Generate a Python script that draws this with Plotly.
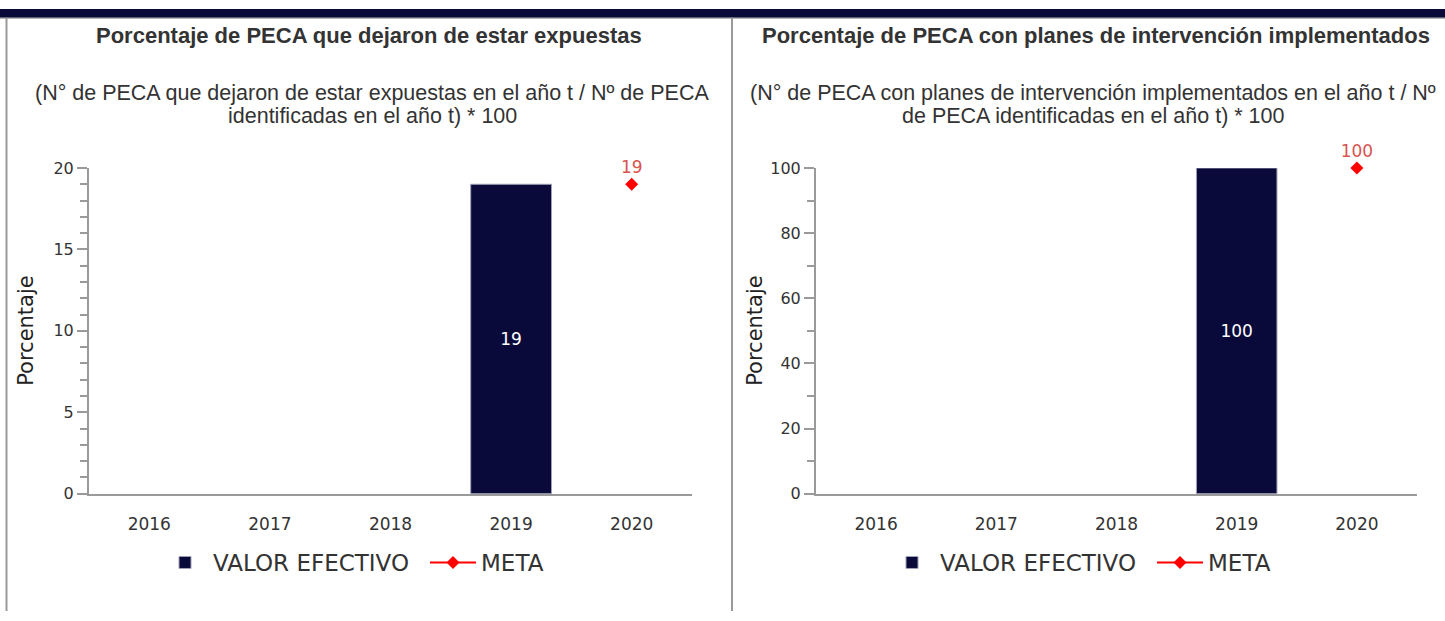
import plotly.graph_objects as go

# ---- data ----
years = ["2016", "2017", "2018", "2019", "2020"]
valor_1 = [None, None, None, 19, None]
meta_1 = [None, None, None, None, 19]
valor_2 = [None, None, None, 100, None]
meta_2 = [None, None, None, None, 100]

title_1 = "Porcentaje de PECA que dejaron de estar expuestas"
sub_1 = ["(N° de PECA que dejaron de estar expuestas en el año t / Nº de PECA",
         "identificadas en el año t) * 100"]
title_2 = "Porcentaje de PECA con planes de intervención implementados"
sub_2 = ["(N° de PECA con planes de intervención implementados en el año t / Nº",
         "de PECA identificadas en el año t) * 100"]
y_title = "Porcentaje"
legend_names = ["VALOR EFECTIVO", "META"]

W, H = 1445, 621
NAVY = "#0a0a3a"
GRAY = "#9a9a9a"
RED = "#ff0000"
LABEL_RED = "#d9534f"
TXT = "#333333"
CHART_FONT = "DejaVu Sans"
TITLE_FONT = "Liberation Sans, Arial, sans-serif"


def px_x(x):
    return x / W


def px_y(y):
    return 1 - y / H


fig = go.Figure()

panels = [
    dict(valor=valor_1, meta=meta_1, xa="x", ya="y", leg="legend"),
    dict(valor=valor_2, meta=meta_2, xa="x2", ya="y2", leg="legend2"),
]
for i, p in enumerate(panels):
    fig.add_trace(go.Bar(
        x=years, y=p["valor"], name=legend_names[0],
        marker=dict(color=NAVY, line=dict(color="#a0a0b8", width=1)),
        texttemplate="%{y}", textposition="inside", insidetextanchor="middle",
        textfont=dict(family=CHART_FONT, size=17, color="white"),
        xaxis=p["xa"], yaxis=p["ya"], legend=p["leg"], hoverinfo="skip",
    ))
    fig.add_trace(go.Scatter(
        x=years, y=p["meta"], name=legend_names[1], mode="lines+markers",
        line=dict(color=RED, width=2),
        marker=dict(symbol="diamond", size=10, color=RED),
        cliponaxis=False,
        xaxis=p["xa"], yaxis=p["ya"], legend=p["leg"], hoverinfo="skip",
    ))
    fig.add_trace(go.Scatter(
        x=years, y=p["meta"], mode="markers+text", texttemplate="%{y}",
        textposition="top center",
        marker=dict(size=9, color="rgba(0,0,0,0)"),
        textfont=dict(family=CHART_FONT, size=17, color=LABEL_RED),
        cliponaxis=False,
        xaxis=p["xa"], yaxis=p["ya"], showlegend=False, hoverinfo="skip",
    ))

common_x = dict(type="category", categoryorder="array", categoryarray=years,
                range=[-0.5, 4.5], showline=True, linecolor=GRAY, linewidth=2,
                showgrid=False, zeroline=False, ticks="", ticklabelstandoff=14,
                tickfont=dict(family=CHART_FONT, size=17, color=TXT), fixedrange=True)
common_y = dict(showline=True, linecolor=GRAY, linewidth=2, showgrid=False,
                zeroline=False, ticks="outside", ticklen=10, tickwidth=2, tickcolor=GRAY,
                tickfont=dict(family=CHART_FONT, size=16, color=TXT), fixedrange=True)

legend_common = dict(orientation="h", xanchor="left", yanchor="middle",
                     font=dict(family=CHART_FONT, size=23, color=TXT),
                     bgcolor="rgba(0,0,0,0)", itemwidth=46,
                     entrywidth=207, entrywidthmode="pixels")

y0, y1 = px_y(500), px_y(164)
fig.update_layout(
    width=W, height=H, margin=dict(l=0, r=0, t=0, b=0),
    paper_bgcolor="white", plot_bgcolor="white",
    bargap=0.33, showlegend=True,
    xaxis=dict(domain=[px_x(89), px_x(692)], anchor="y", **common_x),
    yaxis=dict(domain=[y0, y1], anchor="x", range=[0, 20], dtick=5,
               minor=dict(dtick=1, ticks="outside", ticklen=7, tickwidth=2,
                          tickcolor=GRAY, showgrid=False), **common_y),
    xaxis2=dict(domain=[px_x(816), px_x(1417)], anchor="y2", **common_x),
    yaxis2=dict(domain=[y0, y1], anchor="x2", range=[0, 100], dtick=20,
                minor=dict(dtick=10, ticks="outside", ticklen=7, tickwidth=2,
                           tickcolor=GRAY, showgrid=False), **common_y),
    legend=dict(x=px_x(157), y=px_y(571), **legend_common),
    legend2=dict(x=px_x(884), y=px_y(571), **legend_common),
)

# frame: top band and panel borders
shapes = [
    dict(type="rect", xref="paper", yref="paper", x0=0, x1=1, y0=px_y(9), y1=1,
         fillcolor=NAVY, line=dict(width=0), layer="above"),
    dict(type="line", xref="paper", yref="paper", x0=0, x1=1, y0=px_y(9.5), y1=px_y(9.5),
         line=dict(color=GRAY, width=1)),
    dict(type="line", xref="paper", yref="paper", x0=px_x(6.5), x1=px_x(6.5), y0=0, y1=px_y(9),
         line=dict(color=GRAY, width=2)),
    dict(type="line", xref="paper", yref="paper", x0=px_x(732), x1=px_x(732), y0=0, y1=px_y(9),
         line=dict(color=GRAY, width=2)),
]
fig.update_layout(shapes=shapes)

annotations = []
for cx, sx, t, s in [(369, 372, title_1, sub_1), (1096, 1093, title_2, sub_2)]:
    annotations.append(dict(text=f"<b>{t}</b>", x=px_x(cx), y=px_y(27), xref="paper",
                            yref="paper", showarrow=False, xanchor="center", yanchor="middle",
                            font=dict(family=TITLE_FONT, size=22, color=TXT)))
    for k, line in enumerate(s):
        annotations.append(dict(text=line, x=px_x(sx), y=px_y(87 + 23 * k), xref="paper",
                                yref="paper", showarrow=False, xanchor="center",
                                yanchor="middle",
                                font=dict(family=TITLE_FONT, size=21.5, color=TXT)))
for cx in [26, 755]:
    annotations.append(dict(text=y_title, x=px_x(cx), y=(y0 + y1) / 2, xref="paper",
                            yref="paper", showarrow=False, textangle=-90,
                            xanchor="center", yanchor="middle",
                            font=dict(family=CHART_FONT, size=21, color="#222")))
fig.update_layout(annotations=annotations)

post = (
    "document.documentElement.style.margin='0';"
    "document.documentElement.style.overflow='hidden';"
    "document.body.style.margin='0';"
    "document.body.style.overflow='hidden';"
    "var g=document.getElementsByClassName('plotly-graph-div')[0];"
    "g.style.position='fixed';g.style.left='0px';g.style.top='0px';"
)
fig.write_html("out.html", config={"displayModeBar": False}, post_script=post)
